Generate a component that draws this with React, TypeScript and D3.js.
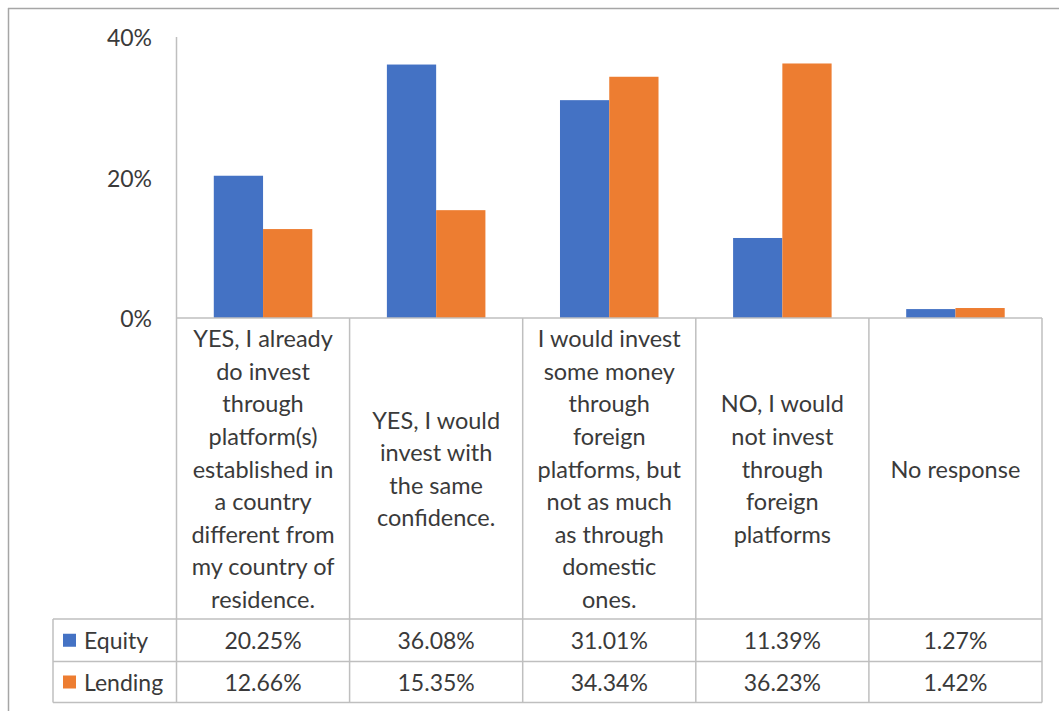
import React from "react";
import * as d3 from "d3";

const categories: string[][] = [
  ["YES, I already", "do invest", "through", "platform(s)", "established in", "a country", "different from", "my country of", "residence."],
  ["YES, I would", "invest with", "the same", "confidence."],
  ["I would invest", "some money", "through", "foreign", "platforms, but", "not as much", "as through", "domestic", "ones."],
  ["NO, I would", "not invest", "through", "foreign", "platforms"],
  ["No response"],
];
const seriesNames = ["Equity", "Lending"];
const equity = [20.25, 36.08, 31.01, 11.39, 1.27];
const lending = [12.66, 15.35, 34.34, 36.23, 1.42];
const yTicks = [0, 20, 40];
const colors = ["#4472C4", "#ED7D31"];

const W = 1059;
const H = 711;
const FONT = "Lato, 'Open Sans', sans-serif";
const TEXT = "#3a3a3a";
const GRID = "#bfbfbf";

export default function App() {
  const catIdx = categories.map((_, i) => i);
  const x = d3.scaleBand<number>().domain(catIdx).range([176.5, 1042]).padding(0);
  const y = d3.scaleLinear().domain([0, 40]).range([318, 37]);
  const inner = d3
    .scaleBand<string>()
    .domain(seriesNames)
    .range([0, x.bandwidth()])
    .paddingInner(0)
    .paddingOuter(0.757);
  const values = [equity, lending];

  const labelTop = 318;
  const labelBottom = 619;
  const row1Bottom = 661.5;
  const row2Bottom = 702.5;
  const legendLeft = 53;
  const lineH = 32.6;
  const labelCenter = (labelTop + labelBottom) / 2;

  return (
    <svg
      width={W}
      height={H}
      style={{ position: "absolute", left: 0, top: 0, background: "#fff" }}
      fontFamily={FONT}
    >
      <rect x={0} y={0} width={W} height={H} fill="#fff" />
      {/* outer frame */}
      <line x1={8.5} y1={8} x2={8.5} y2={H} stroke="#a6a6a6" strokeWidth={1.5} />
      <line x1={8} y1={8.5} x2={W} y2={8.5} stroke="#a6a6a6" strokeWidth={1.5} />

      {/* y axis ticks */}
      {yTicks.map((t) => (
        <text
          key={t}
          x={152}
          y={y(t)}
          textAnchor="end"
          dominantBaseline="central"
          fontSize={23}
          fill={TEXT}
        >
          {t}%
        </text>
      ))}
      <line x1={x.range()[0]} y1={y(40)} x2={x.range()[0]} y2={labelTop} stroke={GRID} strokeWidth={1.5} />

      {/* bars */}
      {values.map((vals, s) =>
        vals.map((v, i) => (
          <rect
            key={`${s}-${i}`}
            x={(x(i) as number) + (inner(seriesNames[s]) as number)}
            y={y(v)}
            width={inner.bandwidth()}
            height={y(0) - y(v)}
            fill={colors[s]}
          />
        ))
      )}

      {/* table grid */}
      <g stroke={GRID} strokeWidth={1.5} fill="none">
        <line x1={x.range()[0]} y1={labelTop} x2={x.range()[1]} y2={labelTop} />
        <line x1={legendLeft} y1={labelBottom} x2={x.range()[1]} y2={labelBottom} />
        <line x1={legendLeft} y1={row1Bottom} x2={x.range()[1]} y2={row1Bottom} />
        <line x1={legendLeft} y1={row2Bottom} x2={x.range()[1]} y2={row2Bottom} />
        <line x1={legendLeft} y1={labelBottom} x2={legendLeft} y2={row2Bottom} />
        {catIdx.map((i) => (
          <line key={i} x1={x(i) as number} y1={labelTop} x2={x(i) as number} y2={row2Bottom} />
        ))}
        <line x1={x.range()[1]} y1={labelTop} x2={x.range()[1]} y2={row2Bottom} />
      </g>

      {/* category labels */}
      {categories.map((lines, i) => {
        const cx = (x(i) as number) + x.bandwidth() / 2;
        const start = labelCenter - ((lines.length - 1) * lineH) / 2;
        return (
          <g key={i}>
            {lines.map((ln, j) => (
              <text
                key={j}
                x={cx}
                y={start + j * lineH}
                textAnchor="middle"
                dominantBaseline="central"
                fontSize={23.5}
                fill={TEXT}
              >
                {ln}
              </text>
            ))}
          </g>
        );
      })}

      {/* table rows */}
      {seriesNames.map((name, s) => {
        const top = s === 0 ? labelBottom : row1Bottom;
        const bottom = s === 0 ? row1Bottom : row2Bottom;
        const cy = (top + bottom) / 2;
        return (
          <g key={name}>
            <rect x={63} y={cy - 6.5} width={13} height={13} fill={colors[s]} />
            <text x={84} y={cy} dominantBaseline="central" fontSize={23} fill={TEXT}>
              {name}
            </text>
            {values[s].map((v, i) => (
              <text
                key={i}
                x={(x(i) as number) + x.bandwidth() / 2}
                y={cy}
                textAnchor="middle"
                dominantBaseline="central"
                fontSize={23}
                fill={TEXT}
              >
                {v.toFixed(2)}%
              </text>
            ))}
          </g>
        );
      })}
    </svg>
  );
}
